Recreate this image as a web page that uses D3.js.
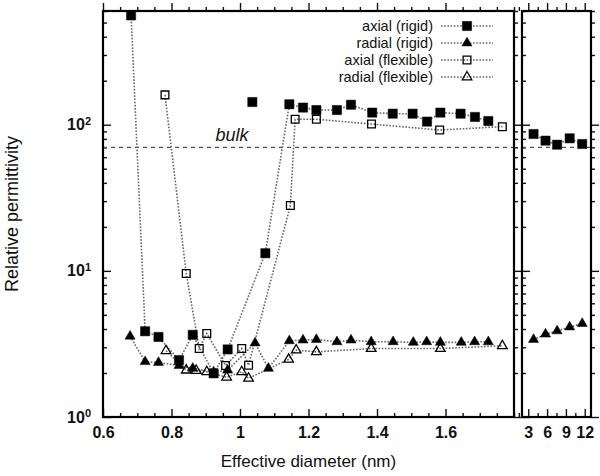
<!DOCTYPE html>
<html>
<head>
<meta charset="utf-8">
<script src="https://cdn.jsdelivr.net/npm/d3@7"></script>
<style>
    body { margin: 0; background: #fff; }
    text { font-family: "Liberation Sans", Arial, sans-serif; fill: #111; }
    .tk line { stroke: #111; stroke-width: 1.4; }
    .lbl text { font-size: 16px; font-weight: bold; }
</style>
</head>
<body>
<svg id="chart" width="600" height="476"></svg>
<script>
// [effective diameter (nm), relative permittivity]
var axialRigid = [[0.682, 560], [0.723, 3.86], [0.762, 3.53], [0.822, 2.45], [0.862, 3.65], [0.923, 1.99],
    [0.964, 2.9], [1.074, 13.2], [1.144, 138], [1.184, 131], [1.223, 126], [1.283, 126], [1.324, 137],
    [1.386, 121], [1.446, 119], [1.504, 119], [1.546, 105], [1.585, 121], [1.644, 119], [1.686, 113], [1.725, 106]];
var axialRigidLone = [[1.036, 143]];
var radialRigid = [[0.679, 3.57], [0.723, 2.39], [0.762, 2.36], [0.822, 2.25], [0.862, 2.15], [0.923, 2.03],
    [0.964, 2.09], [1.044, 3.21], [1.083, 2.15], [1.144, 3.32], [1.184, 3.36], [1.223, 3.39], [1.283, 3.27],
    [1.324, 3.36], [1.383, 3.27], [1.447, 3.27], [1.506, 3.24], [1.545, 3.27], [1.585, 3.24], [1.646, 3.24],
    [1.685, 3.27], [1.725, 3.27]];
var axialFlexible = [[0.781, 160], [0.843, 9.6], [0.881, 2.94], [0.903, 3.73], [0.958, 2.25], [1.005, 2.94],
    [1.025, 2.26], [1.147, 28], [1.161, 109], [1.223, 109], [1.384, 101], [1.583, 92], [1.766, 97]];
var radialFlexible = [[0.784, 2.84], [0.843, 2.09], [0.872, 2.08], [0.903, 2.04], [0.961, 1.87], [1.005, 2.04],
    [1.025, 1.84], [1.142, 2.48], [1.164, 2.87], [1.223, 2.79], [1.383, 2.94], [1.585, 2.94], [1.766, 3.07]];

// wide tubes (right panel)
var wideX = [3.84, 5.75, 7.6, 9.6, 11.6];
var axialRigidWide = [86.4, 77.8, 73, 80.7, 73.8];
var radialRigidWide = [3.39, 3.69, 3.88, 4.13, 4.36];

var bulk = 70;

var xTicksLeft = [0.6, 0.8, 1, 1.2, 1.4, 1.6];
var xTicksRight = [3, 6, 9, 12];
var yTicks = [1, 10, 100];
var legendNames = ["axial (rigid)", "radial (rigid)", "axial (flexible)", "radial (flexible)"];

var svg = d3.select("svg#chart");
var plotTop = 11, plotBottom = 417;

var x = d3.scaleLinear().domain([0.6, 1.8]).range([103, 514]);
var xr = d3.scaleLinear().domain([2, 13]).range([522, 591]);
var y = d3.scaleLog().domain([1, 600]).range([plotBottom, plotTop]);

function zip(xs, ys) {
    return xs.map(function (v, i) { return [v, ys[i]]; });
}

function ticks(axisFn, scale, values, size, pos) {
    svg.append("g").attr("class", "tk")
        .attr("transform", pos)
        .call(axisFn(scale).tickValues(values).tickSize(-size).tickFormat(""))
        .call(function (g) { g.select(".domain").remove(); });
}

var yMinor = y.ticks().filter(function (d) { return yTicks.indexOf(d) < 0; });

function panel(xs, majors, minors) {
    var x0 = xs.range()[0], x1 = xs.range()[1];
    ticks(d3.axisBottom, xs, minors, 4, "translate(0," + plotBottom + ")");
    ticks(d3.axisBottom, xs, majors, 8, "translate(0," + plotBottom + ")");
    ticks(d3.axisTop, xs, minors, -4, "translate(0," + plotTop + ")");
    ticks(d3.axisTop, xs, majors, -8, "translate(0," + plotTop + ")");
    ticks(d3.axisLeft, y, yMinor, 4, "translate(" + x0 + ",0)");
    ticks(d3.axisLeft, y, yTicks, 8, "translate(" + x0 + ",0)");
    ticks(d3.axisRight, y, yMinor, -4, "translate(" + x1 + ",0)");
    ticks(d3.axisRight, y, yTicks, -8, "translate(" + x1 + ",0)");

    svg.append("g").attr("class", "lbl")
        .attr("transform", "translate(0," + plotBottom + ")")
        .call(d3.axisBottom(xs).tickValues(majors).tickSize(0).tickPadding(10).tickFormat(d3.format("")))
        .call(function (g) { g.select(".domain").remove(); });

    // bulk water reference
    svg.append("line")
        .attr("x1", x0).attr("x2", x1)
        .attr("y1", y(bulk)).attr("y2", y(bulk))
        .attr("stroke", "#555").attr("stroke-width", 1.4)
        .attr("stroke-dasharray", "4,4");
}

var xMinorLeft = x.ticks(24).filter(function (d) { return xTicksLeft.indexOf(+d.toFixed(2)) < 0; });
var xMinorRight = d3.range(1.5, 13, 1.5).filter(function (d) { return xTicksRight.indexOf(d) < 0; });

panel(x, xTicksLeft, xMinorLeft);
panel(xr, xTicksRight, xMinorRight);

// y labels 10^n
svg.append("g").attr("class", "lbl")
    .attr("transform", "translate(" + x.range()[0] + ",0)")
    .call(d3.axisLeft(y).tickValues(yTicks).tickSize(0).tickPadding(12).tickFormat(function () { return "10"; }))
    .call(function (g) { g.select(".domain").remove(); })
    .selectAll(".tick text")
    .append("tspan")
    .attr("dy", "-0.5em")
    .style("font-size", "11px")
    .text(function (d) { return Math.round(Math.log10(d)); });

svg.append("text")
    .attr("x", 232).attr("y", 141)
    .style("font-size", "18px").style("font-style", "italic")
    .attr("text-anchor", "middle")
    .text("bulk");

// series
var lineL = d3.line().x(function (d) { return x(d[0]); }).y(function (d) { return y(d[1]); });
var lineR = d3.line().x(function (d) { return xr(d[0]); }).y(function (d) { return y(d[1]); });

var squareF = d3.symbol().type(d3.symbolSquare).size(85);
var squareO = d3.symbol().type(d3.symbolSquare).size(60);
var triF = d3.symbol().type(d3.symbolTriangle).size(44);
var triO = d3.symbol().type(d3.symbolTriangle).size(40);

var series = [
    {name: legendNames[0], left: axialRigid, right: zip(wideX, axialRigidWide), sym: squareF, filled: true},
    {name: legendNames[1], left: radialRigid, right: zip(wideX, radialRigidWide), sym: triF, filled: true},
    {name: legendNames[2], left: axialFlexible, right: [], sym: squareO, filled: false},
    {name: legendNames[3], left: radialFlexible, right: [], sym: triO, filled: false}
];

function styleMark(sel, s) {
    sel.attr("d", s.sym)
        .attr("fill", s.filled ? "#000" : "none")
        .attr("stroke", "#000")
        .attr("stroke-width", s.filled ? 0.5 : 1.3);
}

function dotted(sel) {
    sel.attr("fill", "none")
        .attr("stroke", "#666")
        .attr("stroke-width", 1.6)
        .attr("stroke-dasharray", "1.6,1.6");
}

series.forEach(function (s) {
    svg.append("path").datum(s.left).attr("d", lineL).call(dotted);
    if (s.right.length) svg.append("path").datum(s.right).attr("d", lineR).call(dotted);
});

series.forEach(function (s) {
    svg.append("g").selectAll("path").data(s.left).enter().append("path")
        .attr("transform", function (d) { return "translate(" + x(d[0]) + "," + y(d[1]) + ")"; })
        .call(styleMark, s);
    svg.append("g").selectAll("path").data(s.right).enter().append("path")
        .attr("transform", function (d) { return "translate(" + xr(d[0]) + "," + y(d[1]) + ")"; })
        .call(styleMark, s);
});

svg.append("g").selectAll("path").data(axialRigidLone).enter().append("path")
    .attr("transform", function (d) { return "translate(" + x(d[0]) + "," + y(d[1]) + ")"; })
    .call(styleMark, series[0]);

// legend
var legend = svg.append("g").attr("transform", "translate(433,31)");
series.forEach(function (s, i) {
    var row = legend.append("g").attr("transform", "translate(0," + (i * 17) + ")");
    row.append("text")
        .attr("text-anchor", "end")
        .style("font-size", "14.5px")
        .text(s.name);
    row.append("line")
        .attr("x1", 8).attr("x2", 60).attr("y1", -5).attr("y2", -5)
        .call(dotted);
    row.append("path")
        .attr("transform", "translate(34,-5)")
        .call(styleMark, s);
});

// frames
[x, xr].forEach(function (s) {
    svg.append("rect")
        .attr("x", s.range()[0]).attr("y", plotTop)
        .attr("width", s.range()[1] - s.range()[0])
        .attr("height", plotBottom - plotTop)
        .attr("fill", "none").attr("stroke", "#000").attr("stroke-width", 2.2);
});

svg.append("text")
    .attr("transform", "translate(18," + ((plotTop + plotBottom) / 2) + ") rotate(-90)")
    .attr("text-anchor", "middle")
    .style("font-size", "18px")
    .text("Relative permittivity");

svg.append("text")
    .attr("x", (x.range()[0] + x.range()[1]) / 2).attr("y", 467)
    .attr("text-anchor", "middle")
    .style("font-size", "17px")
    .text("Effective diameter (nm)");
</script>
</body>
</html>
